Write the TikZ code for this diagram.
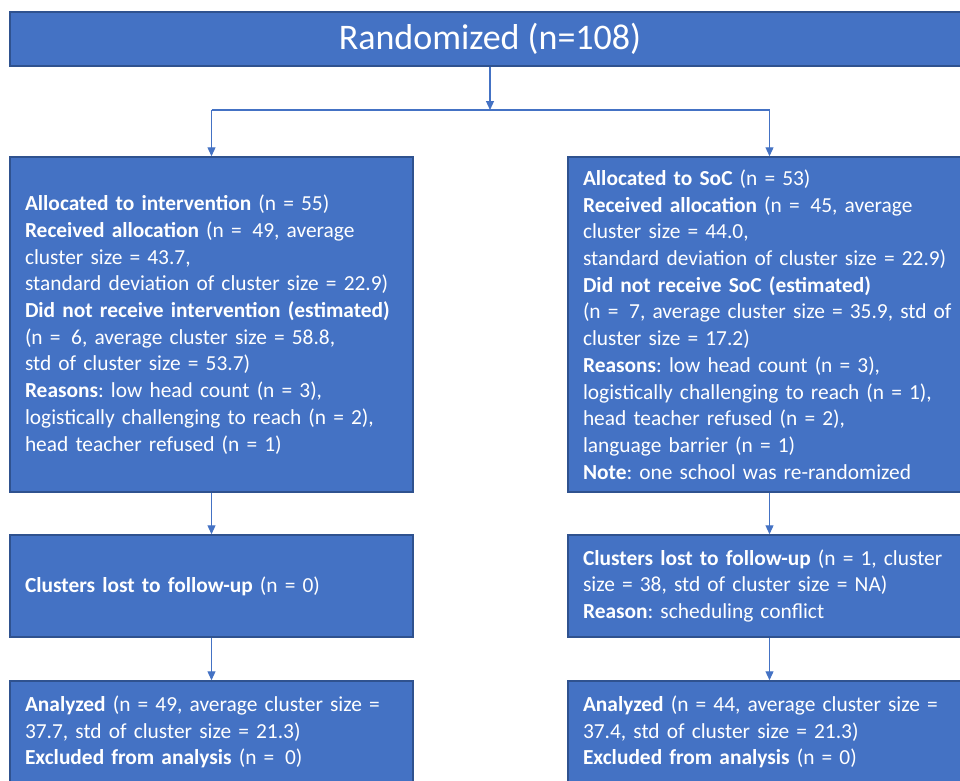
\documentclass[tikz,border=0pt]{standalone}
\usepackage{fontspec}
\setmainfont{Carlito}
\usetikzlibrary{arrows.meta}
\definecolor{boxfill}{HTML}{4472C4}
\definecolor{boxedge}{HTML}{2F528F}
\definecolor{lineblue}{HTML}{4472C4}
\tikzset{
  flowbox/.style={draw=boxedge, line width=1.5pt, fill=boxfill, text=white,
    rectangle, minimum width=403pt, text width=373pt, align=left,
    inner xsep=15pt, font=\fontsize{21.4}{26.7}\selectfont},
  topbox/.style={draw=boxedge, line width=1.5pt, fill=boxfill, text=white,
    rectangle, minimum width=960pt, minimum height=54pt, align=center,
    font=\fontsize{36}{40}\selectfont},
  conn/.style={draw=lineblue, line width=1.2pt},
  arr/.style={conn, -{Triangle[width=8pt,length=9pt]}}
}
\begin{document}
\frenchspacing
\begin{tikzpicture}[x=1pt,y=-1pt]
\useasboundingbox (0,0) rectangle (960,780);
\clip (0,0) rectangle (960,780);
\fill[white] (0,0) rectangle (960,780);

\node[topbox] (top) at (490,39) {Randomized (n=108)};

\node[flowbox, minimum height=335pt] (L1) at (211.5,324.5) {%
\textbf{Allocated to intervention} (n = 55)\\
\textbf{Received allocation} (n =\enspace 49, average\\
cluster size = 43.7,\\
standard deviation of cluster size = 22.9)\\
\textbf{Did not receive intervention (estimated)}\\
(n =\enspace 6, average cluster size = 58.8,\\
std of cluster size = 53.7)\\
\textbf{Reasons}: low head count (n = 3),\\
logistically challenging to reach (n = 2),\\
head teacher refused (n = 1)};

\node[flowbox, minimum height=335pt] (R1) at (769.5,324.5) {%
\textbf{Allocated to SoC} (n = 53)\\
\textbf{Received allocation} (n =\enspace 45, average\\
cluster size = 44.0,\\
standard deviation of cluster size = 22.9)\\
\textbf{Did not receive SoC (estimated)}\\
(n =\enspace 7, average cluster size = 35.9, std of\\
cluster size = 17.2)\\
\textbf{Reasons}: low head count (n = 3),\\
logistically challenging to reach (n = 1),\\
head teacher refused (n = 2),\\
language barrier (n = 1)\\
\textbf{Note}: one school was re-randomized};

\node[flowbox, minimum height=102pt] (L2) at (211.5,586) {%
\textbf{Clusters lost to follow-up} (n = 0)};

\node[flowbox, minimum height=102pt] (R2) at (769.5,586) {%
\textbf{Clusters lost to follow-up} (n = 1, cluster\\
size = 38, std of cluster size = NA)\\
\textbf{Reason}: scheduling conflict};

\node[flowbox, minimum height=102pt] (L3) at (211.5,732) {%
\textbf{Analyzed} (n = 49, average cluster size =\\
37.7, std of cluster size = 21.3)\\
\textbf{Excluded from analysis} (n =\enspace 0)};

\node[flowbox, minimum height=102pt] (R3) at (769.5,732) {%
\textbf{Analyzed} (n = 44, average cluster size =\\
37.4, std of cluster size = 21.3)\\
\textbf{Excluded from analysis} (n = 0)};

\coordinate (split) at (490,110);
\draw[arr] (top.south -| split) -- (split);
\draw[conn] (split -| L1.north) -- (split -| R1.north);
\draw[arr] (split -| L1.north) -- (L1.north);
\draw[arr] (split -| R1.north) -- (R1.north);
\draw[arr] (L1.south) -- (L2.north);
\draw[arr] (R1.south) -- (R2.north);
\draw[arr] (L2.south) -- (L3.north);
\draw[arr] (R2.south) -- (R3.north);
\end{tikzpicture}
\end{document}
